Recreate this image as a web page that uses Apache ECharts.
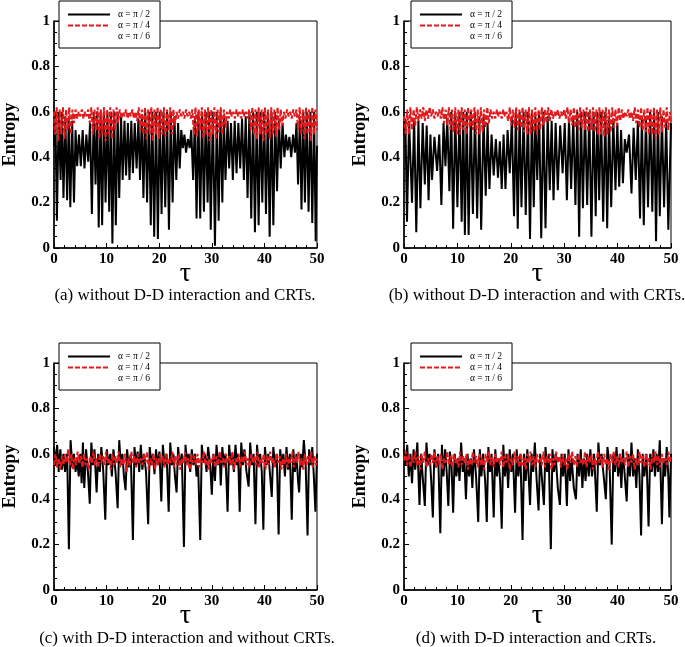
<!DOCTYPE html>
<html><head><meta charset="utf-8">
<script src="https://cdn.jsdelivr.net/npm/echarts@6/dist/echarts.min.js"></script>
<style>html,body{margin:0;padding:0;background:#fff}#c{width:685px;height:647px}</style>
</head><body><div id="c"></div>
<script>
const legendNames = ['α = π / 2', 'α = π / 4', 'α = π / 6'];
const captions = [
  '(a) without D-D interaction and CRTs.',
  '(b) without D-D interaction and with CRTs.',
  '(c) with D-D interaction and without CRTs.',
  '(d) with D-D interaction and CRTs.'
];
const xName = 'τ';
const yName = 'Entropy';

const aBlack = [[0,0.45],[0.25,0.6],[0.55,0.12],[0.9,0.6],[1.25,0.3],[1.5,0.6],[1.8,0.22],[2.15,0.58],[2.5,0.21],[2.8,0.57],[3.1,0.18],[3.45,0.56],[3.8,0.2],[4.1,0.52],[4.4,0.36],[4.75,0.5],[5.1,0.36],[5.45,0.52],[5.8,0.35],[6.15,0.5],[6.5,0.38],[6.85,0.55],[7.2,0.15],[7.55,0.6],[7.9,0.28],[8.2,0.6],[8.5,0.09],[8.85,0.6],[9.15,0.1],[9.5,0.6],[9.8,0.2],[10.15,0.6],[10.5,0.16],[10.8,0.6],[11.1,0.02],[11.45,0.6],[11.75,0.1],[12.1,0.6],[12.4,0.22],[12.75,0.58],[13.05,0.3],[13.4,0.56],[13.7,0.32],[14.05,0.55],[14.35,0.3],[14.7,0.56],[15.0,0.33],[15.35,0.55],[15.7,0.35],[16.05,0.57],[16.35,0.3],[16.7,0.58],[17.0,0.22],[17.35,0.6],[17.7,0.2],[18.05,0.6],[18.4,0.1],[18.7,0.6],[19.05,0.05],[19.4,0.6],[19.75,0.04],[20.1,0.6],[20.45,0.15],[20.8,0.6],[21.15,0.18],[21.5,0.6],[21.85,0.08],[22.2,0.6],[22.55,0.2],[22.9,0.58],[23.25,0.3],[23.6,0.55],[23.9,0.35],[24.2,0.52],[24.5,0.44],[24.8,0.5],[25.1,0.42],[25.45,0.48],[25.8,0.44],[26.1,0.52],[26.45,0.3],[26.8,0.58],[27.1,0.13],[27.45,0.6],[27.8,0.13],[28.15,0.6],[28.5,0.16],[28.85,0.6],[29.2,0.2],[29.5,0.6],[29.8,0.08],[30.2,0.6],[30.6,0.01],[30.95,0.6],[31.3,0.12],[31.65,0.6],[32.0,0.2],[32.3,0.58],[32.6,0.3],[33.0,0.56],[33.3,0.35],[33.65,0.55],[34.0,0.3],[34.35,0.56],[34.7,0.33],[35.05,0.55],[35.4,0.35],[35.75,0.57],[36.1,0.3],[36.45,0.58],[36.8,0.22],[37.15,0.6],[37.5,0.13],[37.85,0.6],[38.2,0.07],[38.55,0.6],[38.9,0.1],[39.25,0.6],[39.6,0.2],[39.95,0.6],[40.3,0.15],[40.65,0.6],[41.0,0.05],[41.35,0.6],[41.7,0.1],[42.05,0.6],[42.4,0.25],[42.75,0.57],[43.1,0.35],[43.45,0.55],[43.8,0.4],[44.1,0.5],[44.4,0.43],[44.75,0.49],[45.1,0.4],[45.45,0.5],[45.8,0.42],[46.1,0.55],[46.4,0.28],[46.75,0.58],[47.05,0.17],[47.4,0.6],[47.7,0.2],[48.05,0.6],[48.4,0.16],[48.75,0.6],[49.1,0.11],[49.45,0.6],[49.75,0.03],[50,0.45]];

const aRed = [[0,0.6],[0.2,0.5],[0.5,0.62],[0.8,0.47],[1.1,0.61],[1.4,0.5],[1.7,0.62],[2.0,0.48],[2.3,0.61],[2.6,0.52],[2.9,0.62],[3.2,0.5],[3.5,0.61],[3.8,0.55],[4.1,0.61],[4.4,0.57],[4.7,0.6],[5.0,0.58],[5.3,0.61],[5.6,0.57],[5.9,0.6],[6.2,0.58],[6.5,0.61],[6.8,0.55],[7.1,0.62],[7.4,0.5],[7.7,0.61],[8.0,0.52],[8.3,0.62],[8.6,0.48],[8.9,0.61],[9.2,0.5],[9.5,0.62],[9.8,0.47],[10.1,0.61],[10.4,0.5],[10.7,0.62],[11.0,0.48],[11.3,0.61],[11.6,0.52],[11.9,0.62],[12.2,0.55],[12.5,0.61],[12.8,0.57],[13.1,0.6],[13.4,0.58],[13.7,0.61],[14.0,0.57],[14.3,0.6],[14.6,0.58],[14.9,0.61],[15.2,0.57],[15.5,0.6],[15.8,0.56],[16.1,0.62],[16.4,0.52],[16.7,0.61],[17.0,0.5],[17.3,0.62],[17.6,0.48],[17.9,0.61],[18.2,0.5],[18.5,0.62],[18.8,0.47],[19.1,0.61],[19.4,0.5],[19.7,0.62],[20.0,0.48],[20.3,0.61],[20.6,0.5],[20.9,0.62],[21.2,0.49],[21.5,0.61],[21.8,0.52],[22.1,0.62],[22.4,0.5],[22.7,0.61],[23.0,0.54],[23.3,0.6],[23.6,0.57],[23.9,0.61],[24.2,0.58],[24.5,0.6],[24.8,0.57],[25.1,0.61],[25.4,0.58],[25.7,0.6],[26.0,0.57],[26.3,0.61],[26.6,0.5],[26.9,0.62],[27.2,0.49],[27.5,0.61],[27.8,0.52],[28.1,0.62],[28.4,0.48],[28.7,0.61],[29.0,0.5],[29.3,0.62],[29.6,0.47],[29.9,0.61],[30.2,0.5],[30.5,0.62],[30.8,0.48],[31.1,0.61],[31.4,0.51],[31.7,0.62],[32.0,0.5],[32.3,0.61],[32.6,0.53],[32.9,0.6],[33.2,0.57],[33.5,0.61],[33.8,0.58],[34.1,0.6],[34.4,0.57],[34.7,0.61],[35.0,0.58],[35.3,0.6],[35.6,0.57],[35.9,0.61],[36.2,0.58],[36.5,0.6],[36.8,0.57],[37.1,0.61],[37.4,0.52],[37.7,0.62],[38.0,0.5],[38.3,0.61],[38.6,0.48],[38.9,0.62],[39.2,0.5],[39.5,0.61],[39.8,0.47],[40.1,0.62],[40.4,0.5],[40.7,0.61],[41.0,0.48],[41.3,0.62],[41.6,0.5],[41.9,0.61],[42.2,0.49],[42.5,0.62],[42.8,0.52],[43.1,0.61],[43.4,0.54],[43.7,0.6],[44.0,0.57],[44.3,0.61],[44.6,0.58],[44.9,0.6],[45.2,0.57],[45.5,0.61],[45.8,0.58],[46.1,0.61],[46.4,0.52],[46.7,0.62],[47.0,0.5],[47.3,0.61],[47.6,0.48],[47.9,0.62],[48.2,0.5],[48.5,0.61],[48.8,0.47],[49.1,0.62],[49.4,0.5],[49.7,0.61],[50,0.52]];

const bBlack = [[0,0.5],[0.25,0.57],[0.56,0.116],[0.95,0.56],[1.5,0.2],[1.9,0.57],[2.3,0.07],[2.7,0.56],[3.07,0.175],[3.5,0.55],[3.9,0.28],[4.25,0.54],[4.6,0.21],[4.95,0.5],[5.25,0.3],[5.7,0.49],[6.2,0.34],[6.6,0.5],[7.0,0.19],[7.4,0.55],[7.76,0.36],[8.1,0.57],[8.5,0.25],[8.85,0.6],[9.2,0.085],[9.6,0.6],[10.0,0.18],[10.4,0.6],[10.8,0.116],[11.1,0.6],[11.4,0.057],[11.75,0.6],[12.1,0.057],[12.5,0.6],[12.9,0.15],[13.3,0.6],[13.7,0.13],[14.1,0.58],[14.45,0.08],[14.9,0.58],[15.3,0.23],[15.65,0.55],[16.0,0.26],[16.4,0.5],[16.8,0.32],[17.2,0.48],[17.6,0.31],[17.95,0.47],[18.3,0.26],[18.65,0.5],[19.0,0.26],[19.4,0.52],[19.8,0.33],[20.2,0.57],[20.6,0.14],[20.95,0.6],[21.3,0.085],[21.65,0.6],[22.0,0.18],[22.4,0.6],[22.8,0.145],[23.2,0.6],[23.6,0.04],[23.95,0.6],[24.3,0.18],[24.6,0.58],[24.95,0.3],[25.3,0.6],[25.7,0.043],[26.1,0.6],[26.5,0.087],[26.9,0.58],[27.3,0.255],[27.65,0.56],[28.0,0.21],[28.4,0.55],[28.8,0.255],[29.25,0.54],[29.7,0.33],[30.1,0.55],[30.5,0.21],[30.9,0.57],[31.3,0.26],[31.7,0.58],[32.1,0.19],[32.45,0.6],[32.8,0.05],[33.15,0.6],[33.5,0.175],[33.9,0.6],[34.3,0.19],[34.7,0.6],[35.1,0.05],[35.5,0.6],[35.9,0.14],[36.2,0.6],[36.55,0.21],[36.9,0.6],[37.3,0.116],[37.7,0.6],[38.05,0.087],[38.4,0.58],[38.8,0.18],[39.2,0.57],[39.6,0.255],[39.95,0.55],[40.3,0.27],[40.65,0.52],[41.0,0.285],[41.35,0.48],[41.7,0.42],[42.15,0.5],[42.6,0.24],[43.0,0.53],[43.4,0.3],[43.8,0.56],[44.2,0.13],[44.55,0.58],[44.9,0.1],[45.3,0.58],[45.7,0.18],[46.1,0.6],[46.5,0.16],[46.85,0.6],[47.2,0.03],[47.55,0.6],[47.9,0.14],[48.3,0.58],[48.7,0.18],[49.1,0.56],[49.5,0.08],[50,0.55]];

const bRed = [[0,0.58],[0.3,0.5],[0.6,0.61],[0.9,0.5],[1.2,0.62],[1.5,0.52],[1.8,0.61],[2.1,0.54],[2.4,0.62],[2.7,0.56],[3.0,0.61],[3.3,0.57],[3.6,0.62],[3.9,0.56],[4.2,0.61],[4.5,0.57],[4.8,0.62],[5.1,0.58],[5.4,0.61],[5.7,0.57],[6.0,0.6],[6.3,0.58],[6.6,0.61],[6.9,0.57],[7.2,0.62],[7.5,0.55],[7.8,0.61],[8.1,0.54],[8.4,0.62],[8.7,0.52],[9.0,0.61],[9.3,0.51],[9.6,0.62],[9.9,0.5],[10.2,0.61],[10.5,0.5],[10.8,0.62],[11.1,0.52],[11.4,0.61],[11.7,0.5],[12.0,0.62],[12.3,0.53],[12.6,0.61],[12.9,0.52],[13.2,0.62],[13.5,0.5],[13.8,0.61],[14.1,0.5],[14.4,0.62],[14.7,0.51],[15.0,0.61],[15.3,0.53],[15.6,0.62],[15.9,0.55],[16.2,0.61],[16.5,0.57],[16.8,0.6],[17.1,0.57],[17.4,0.61],[17.7,0.58],[18.0,0.6],[18.3,0.57],[18.6,0.61],[18.9,0.58],[19.2,0.6],[19.5,0.56],[19.8,0.62],[20.1,0.54],[20.4,0.61],[20.7,0.53],[21.0,0.62],[21.3,0.52],[21.6,0.61],[21.9,0.53],[22.2,0.62],[22.5,0.51],[22.8,0.61],[23.1,0.5],[23.4,0.62],[23.7,0.5],[24.0,0.61],[24.3,0.51],[24.6,0.62],[24.9,0.5],[25.2,0.61],[25.5,0.52],[25.8,0.62],[26.1,0.54],[26.4,0.61],[26.7,0.55],[27.0,0.62],[27.3,0.56],[27.6,0.61],[27.9,0.57],[28.2,0.6],[28.5,0.58],[28.8,0.61],[29.1,0.57],[29.4,0.6],[29.7,0.58],[30.0,0.61],[30.3,0.57],[30.6,0.62],[30.9,0.55],[31.2,0.61],[31.5,0.54],[31.8,0.62],[32.1,0.53],[32.4,0.61],[32.7,0.52],[33.0,0.62],[33.3,0.53],[33.6,0.61],[33.9,0.52],[34.2,0.62],[34.5,0.51],[34.8,0.61],[35.1,0.52],[35.4,0.62],[35.7,0.51],[36.0,0.61],[36.3,0.5],[36.6,0.62],[36.9,0.5],[37.2,0.61],[37.5,0.49],[37.8,0.62],[38.1,0.5],[38.4,0.61],[38.7,0.51],[39.0,0.62],[39.3,0.53],[39.6,0.61],[39.9,0.54],[40.2,0.62],[40.5,0.56],[40.8,0.61],[41.1,0.57],[41.4,0.6],[41.7,0.58],[42.0,0.61],[42.3,0.57],[42.6,0.6],[42.9,0.56],[43.2,0.62],[43.5,0.55],[43.8,0.61],[44.1,0.53],[44.4,0.62],[44.7,0.52],[45.0,0.61],[45.3,0.51],[45.6,0.62],[45.9,0.5],[46.2,0.61],[46.5,0.5],[46.8,0.62],[47.1,0.48],[47.4,0.61],[47.7,0.5],[48.0,0.62],[48.3,0.51],[48.6,0.61],[48.9,0.53],[49.2,0.62],[49.5,0.52],[49.8,0.6],[50,0.55]];

const cBlack = [[0,0.63],[0.3,0.55],[0.6,0.64],[0.9,0.52],[1.2,0.62],[1.5,0.53],[1.8,0.6],[2.1,0.52],[2.5,0.6],[2.83,0.18],[3.15,0.66],[3.5,0.54],[3.8,0.6],[4.1,0.52],[4.4,0.58],[4.7,0.5],[5.0,0.6],[5.25,0.47],[5.5,0.65],[5.75,0.45],[6.1,0.62],[6.45,0.52],[6.8,0.38],[7.1,0.65],[7.4,0.55],[7.7,0.62],[8.1,0.43],[8.4,0.6],[8.7,0.52],[9.0,0.63],[9.35,0.53],[9.75,0.31],[10.05,0.62],[10.35,0.55],[10.7,0.6],[11.0,0.5],[11.3,0.62],[11.7,0.52],[12.1,0.36],[12.4,0.66],[12.7,0.55],[13.0,0.6],[13.3,0.5],[13.6,0.44],[13.9,0.62],[14.2,0.54],[14.6,0.6],[15.0,0.22],[15.3,0.63],[15.6,0.55],[15.9,0.61],[16.2,0.52],[16.5,0.64],[16.8,0.53],[17.1,0.6],[17.5,0.52],[17.9,0.29],[18.2,0.63],[18.5,0.55],[18.8,0.6],[19.1,0.51],[19.4,0.62],[19.7,0.55],[20.05,0.61],[20.4,0.39],[20.7,0.64],[21.0,0.55],[21.4,0.6],[21.8,0.345],[22.1,0.65],[22.4,0.55],[22.7,0.6],[23.0,0.5],[23.3,0.43],[23.6,0.63],[23.9,0.55],[24.3,0.6],[24.7,0.19],[25.0,0.64],[25.3,0.56],[25.6,0.6],[25.9,0.52],[26.2,0.62],[26.5,0.55],[26.8,0.6],[27.1,0.5],[27.4,0.55],[27.8,0.22],[28.1,0.64],[28.4,0.56],[28.7,0.6],[29.0,0.52],[29.3,0.63],[29.7,0.55],[30.0,0.42],[30.3,0.6],[30.6,0.48],[30.9,0.64],[31.2,0.55],[31.5,0.6],[31.7,0.46],[32.0,0.63],[32.3,0.55],[32.6,0.6],[33.0,0.345],[33.3,0.64],[33.6,0.55],[33.9,0.6],[34.2,0.52],[34.5,0.64],[34.8,0.55],[35.0,0.6],[35.3,0.345],[35.6,0.65],[35.9,0.55],[36.2,0.62],[36.6,0.52],[37.0,0.455],[37.3,0.65],[37.6,0.55],[37.95,0.6],[38.3,0.29],[38.6,0.64],[38.9,0.55],[39.2,0.6],[39.5,0.52],[39.8,0.265],[40.1,0.63],[40.4,0.55],[40.75,0.6],[41.1,0.5],[41.4,0.41],[41.7,0.63],[42.0,0.55],[42.35,0.6],[42.7,0.245],[43.0,0.62],[43.3,0.55],[43.6,0.6],[43.9,0.5],[44.2,0.63],[44.5,0.53],[44.85,0.6],[45.2,0.31],[45.5,0.62],[45.8,0.52],[46.1,0.6],[46.4,0.48],[46.6,0.43],[46.9,0.6],[47.2,0.54],[47.5,0.66],[47.85,0.55],[48.2,0.24],[48.5,0.62],[48.8,0.55],[49.1,0.63],[49.4,0.5],[49.7,0.345],[50,0.6]];

const cRed = [[0,0.55],[0.3,0.6],[0.6,0.54],[0.9,0.58],[1.2,0.53],[1.5,0.59],[1.8,0.55],[2.1,0.6],[2.4,0.56],[2.7,0.62],[3.0,0.55],[3.3,0.6],[3.6,0.53],[3.9,0.58],[4.2,0.55],[4.5,0.61],[4.8,0.56],[5.1,0.59],[5.4,0.54],[5.7,0.6],[6.0,0.55],[6.3,0.58],[6.6,0.53],[6.9,0.59],[7.2,0.56],[7.5,0.61],[7.8,0.55],[8.1,0.58],[8.4,0.54],[8.7,0.6],[9.0,0.56],[9.3,0.59],[9.6,0.55],[9.9,0.61],[10.2,0.56],[10.5,0.58],[10.8,0.53],[11.1,0.6],[11.4,0.55],[11.7,0.59],[12.0,0.56],[12.3,0.61],[12.6,0.54],[12.9,0.58],[13.2,0.55],[13.5,0.6],[13.8,0.52],[14.1,0.58],[14.4,0.55],[14.7,0.61],[15.0,0.56],[15.3,0.59],[15.6,0.54],[15.9,0.6],[16.2,0.56],[16.5,0.58],[16.8,0.55],[17.1,0.6],[17.4,0.56],[17.7,0.61],[18.0,0.53],[18.3,0.58],[18.6,0.55],[18.9,0.6],[19.2,0.53],[19.5,0.58],[19.8,0.55],[20.1,0.6],[20.4,0.56],[20.7,0.59],[21.0,0.54],[21.3,0.6],[21.6,0.55],[21.9,0.58],[22.2,0.56],[22.5,0.61],[22.8,0.54],[23.1,0.59],[23.4,0.55],[23.7,0.6],[24.0,0.53],[24.3,0.58],[24.6,0.56],[24.9,0.61],[25.2,0.55],[25.5,0.58],[25.8,0.53],[26.1,0.6],[26.4,0.56],[26.7,0.59],[27.0,0.55],[27.3,0.6],[27.6,0.54],[27.9,0.58],[28.2,0.56],[28.5,0.61],[28.8,0.55],[29.1,0.59],[29.4,0.53],[29.7,0.58],[30.0,0.56],[30.3,0.6],[30.6,0.54],[30.9,0.59],[31.2,0.55],[31.5,0.61],[31.8,0.56],[32.1,0.58],[32.4,0.54],[32.7,0.6],[33.0,0.56],[33.3,0.59],[33.6,0.55],[33.9,0.61],[34.2,0.53],[34.5,0.58],[34.8,0.56],[35.1,0.6],[35.4,0.54],[35.7,0.59],[36.0,0.56],[36.3,0.61],[36.6,0.55],[36.9,0.58],[37.2,0.54],[37.5,0.6],[37.8,0.56],[38.1,0.59],[38.4,0.55],[38.7,0.61],[39.0,0.54],[39.3,0.58],[39.6,0.56],[39.9,0.6],[40.2,0.53],[40.5,0.59],[40.8,0.55],[41.1,0.61],[41.4,0.56],[41.7,0.58],[42.0,0.54],[42.3,0.6],[42.6,0.56],[42.9,0.59],[43.2,0.53],[43.5,0.58],[43.8,0.55],[44.1,0.6],[44.4,0.54],[44.7,0.58],[45.0,0.56],[45.3,0.61],[45.6,0.54],[45.9,0.59],[46.2,0.56],[46.5,0.61],[46.8,0.55],[47.1,0.58],[47.4,0.53],[47.7,0.6],[48.0,0.55],[48.3,0.59],[48.6,0.56],[48.9,0.61],[49.2,0.54],[49.5,0.59],[49.8,0.55],[50,0.58]];

const dBlack = [[0,0.62],[0.3,0.55],[0.6,0.64],[0.9,0.5],[1.2,0.6],[1.5,0.47],[1.8,0.62],[2.1,0.53],[2.5,0.65],[2.9,0.375],[3.2,0.6],[3.5,0.5],[3.9,0.37],[4.2,0.65],[4.5,0.55],[4.8,0.6],[5.1,0.48],[5.4,0.32],[5.7,0.62],[6.0,0.54],[6.4,0.6],[6.8,0.25],[7.1,0.64],[7.4,0.5],[7.7,0.62],[8.0,0.52],[8.3,0.37],[8.6,0.61],[8.9,0.55],[9.2,0.34],[9.5,0.6],[9.8,0.5],[10.1,0.58],[10.4,0.48],[10.7,0.65],[11.0,0.52],[11.3,0.58],[11.6,0.4],[11.9,0.6],[12.2,0.5],[12.5,0.58],[12.8,0.45],[13.1,0.62],[13.5,0.5],[13.9,0.3],[14.2,0.62],[14.5,0.5],[14.8,0.6],[15.2,0.48],[15.5,0.3],[15.8,0.63],[16.1,0.52],[16.4,0.6],[16.8,0.32],[17.1,0.62],[17.4,0.5],[17.7,0.58],[18.0,0.48],[18.3,0.27],[18.6,0.64],[18.9,0.5],[19.2,0.6],[19.5,0.45],[19.8,0.62],[20.1,0.52],[20.4,0.6],[20.8,0.34],[21.1,0.62],[21.4,0.5],[21.8,0.6],[22.2,0.22],[22.5,0.6],[22.8,0.48],[23.1,0.62],[23.35,0.5],[23.6,0.375],[23.9,0.6],[24.2,0.52],[24.5,0.65],[24.85,0.48],[25.2,0.35],[25.5,0.6],[25.8,0.5],[26.2,0.375],[26.5,0.63],[26.8,0.52],[27.1,0.6],[27.5,0.18],[27.8,0.62],[28.1,0.52],[28.4,0.6],[28.8,0.45],[29.2,0.375],[29.5,0.6],[29.8,0.5],[30.1,0.6],[30.5,0.37],[30.8,0.62],[31.1,0.48],[31.4,0.58],[31.8,0.45],[32.2,0.4],[32.5,0.6],[32.8,0.5],[33.1,0.62],[33.4,0.45],[33.7,0.58],[34.0,0.48],[34.3,0.6],[34.6,0.5],[34.9,0.62],[35.2,0.5],[35.6,0.6],[36.1,0.345],[36.4,0.65],[36.7,0.55],[37.0,0.6],[37.4,0.5],[37.8,0.4],[38.1,0.63],[38.5,0.55],[38.9,0.2],[39.2,0.6],[39.5,0.52],[39.8,0.63],[40.1,0.5],[40.4,0.6],[40.7,0.45],[41.0,0.62],[41.35,0.5],[41.7,0.39],[42.0,0.6],[42.3,0.5],[42.6,0.65],[42.9,0.5],[43.2,0.58],[43.5,0.45],[43.8,0.62],[44.1,0.5],[44.4,0.24],[44.7,0.6],[45.0,0.5],[45.4,0.6],[45.8,0.28],[46.1,0.6],[46.4,0.52],[46.7,0.62],[47.0,0.5],[47.3,0.6],[47.6,0.52],[47.9,0.66],[48.3,0.29],[48.6,0.58],[48.9,0.5],[49.2,0.63],[49.5,0.5],[49.7,0.32],[50,0.6]];

const dRed = [[0,0.57],[0.3,0.61],[0.6,0.55],[0.9,0.6],[1.2,0.54],[1.5,0.59],[1.8,0.56],[2.1,0.61],[2.4,0.55],[2.7,0.59],[3.0,0.53],[3.3,0.6],[3.6,0.56],[3.9,0.61],[4.2,0.54],[4.5,0.58],[4.8,0.55],[5.1,0.6],[5.4,0.56],[5.7,0.61],[6.0,0.54],[6.3,0.59],[6.6,0.55],[6.9,0.6],[7.2,0.53],[7.5,0.58],[7.8,0.56],[8.1,0.61],[8.4,0.55],[8.7,0.59],[9.0,0.54],[9.3,0.6],[9.6,0.56],[9.9,0.58],[10.2,0.54],[10.5,0.61],[10.8,0.55],[11.1,0.59],[11.4,0.56],[11.7,0.6],[12.0,0.53],[12.3,0.58],[12.6,0.55],[12.9,0.61],[13.2,0.56],[13.5,0.59],[13.8,0.54],[14.1,0.6],[14.4,0.55],[14.7,0.58],[15.0,0.53],[15.3,0.6],[15.6,0.56],[15.9,0.61],[16.2,0.55],[16.5,0.59],[16.8,0.54],[17.1,0.6],[17.4,0.56],[17.7,0.58],[18.0,0.55],[18.3,0.61],[18.6,0.54],[18.9,0.59],[19.2,0.56],[19.5,0.6],[19.8,0.53],[20.1,0.58],[20.4,0.55],[20.7,0.61],[21.0,0.56],[21.3,0.59],[21.6,0.54],[21.9,0.6],[22.2,0.55],[22.5,0.58],[22.8,0.53],[23.1,0.6],[23.4,0.56],[23.7,0.61],[24.0,0.55],[24.3,0.59],[24.6,0.54],[24.9,0.6],[25.2,0.56],[25.5,0.58],[25.8,0.55],[26.1,0.61],[26.4,0.54],[26.7,0.59],[27.0,0.56],[27.3,0.6],[27.6,0.53],[27.9,0.58],[28.2,0.55],[28.5,0.61],[28.8,0.56],[29.1,0.59],[29.4,0.54],[29.7,0.6],[30.0,0.55],[30.3,0.58],[30.6,0.53],[30.9,0.6],[31.2,0.56],[31.5,0.61],[31.8,0.55],[32.1,0.59],[32.4,0.54],[32.7,0.6],[33.0,0.56],[33.3,0.58],[33.6,0.55],[33.9,0.61],[34.2,0.54],[34.5,0.59],[34.8,0.56],[35.1,0.6],[35.4,0.53],[35.7,0.58],[36.0,0.55],[36.3,0.61],[36.6,0.56],[36.9,0.59],[37.2,0.54],[37.5,0.6],[37.8,0.55],[38.1,0.58],[38.4,0.53],[38.7,0.6],[39.0,0.56],[39.3,0.61],[39.6,0.55],[39.9,0.59],[40.2,0.54],[40.5,0.6],[40.8,0.56],[41.1,0.58],[41.4,0.55],[41.7,0.61],[42.0,0.54],[42.3,0.59],[42.6,0.56],[42.9,0.6],[43.2,0.53],[43.5,0.58],[43.8,0.55],[44.1,0.61],[44.4,0.56],[44.7,0.59],[45.0,0.54],[45.3,0.6],[45.6,0.55],[45.9,0.58],[46.2,0.53],[46.5,0.6],[46.8,0.56],[47.1,0.61],[47.4,0.55],[47.7,0.59],[48.0,0.54],[48.3,0.6],[48.6,0.56],[48.9,0.58],[49.2,0.55],[49.5,0.61],[49.8,0.56],[50,0.59]];

const piSixth = [];

const panels = [
  {grid:{left:52, top:21, width:265, height:227}, cap:[185, 296], black:aBlack, red:aRed},
  {grid:{left:404, top:21, width:267, height:227}, cap:[537, 296], black:bBlack, red:bRed},
  {grid:{left:52, top:363, width:265, height:227}, cap:[187, 639], black:cBlack, red:cRed},
  {grid:{left:404, top:363, width:267, height:227}, cap:[536, 639], black:dBlack, red:dRed}
];

const SERIF = '"Liberation Serif", "Times New Roman", serif';
const RED = '#e3191c';

const option = {
  animation: false,
  backgroundColor: '#fff',
  grid: [], xAxis: [], yAxis: [], series: [], legend: [], graphic: []
};

panels.forEach((p, i) => {
  option.grid.push(Object.assign({show:true, borderColor:'#000', borderWidth:1, backgroundColor:'transparent'}, p.grid));
  option.xAxis.push({
    type:'value', gridIndex:i, min:0, max:50, interval:10,
    name:xName, nameLocation:'middle', nameGap:12, nameMoveOverlap:false,
    nameTextStyle:{fontFamily:SERIF, fontSize:28, color:'#000'},
    axisLine:{show:true, onZero:false, lineStyle:{color:'#000', width:1.5}},
    axisTick:{show:true, inside:true, length:5, lineStyle:{color:'#000', width:1}},
    minorTick:{show:true, splitNumber:5, length:3, lineStyle:{color:'#000', width:1}},
    splitLine:{show:false},
    axisLabel:{fontFamily:SERIF, fontWeight:'bold', fontSize:15, color:'#000', margin:4}
  });
  option.yAxis.push({
    type:'value', gridIndex:i, min:0, max:1, interval:0.2,
    name:yName, nameLocation:'middle', nameGap:35, nameRotate:90, nameMoveOverlap:false,
    nameTextStyle:{fontFamily:SERIF, fontWeight:'bold', fontSize:18, color:'#000'},
    axisLine:{show:true, onZero:false, lineStyle:{color:'#000', width:1.5}},
    axisTick:{show:true, inside:true, length:5, lineStyle:{color:'#000', width:1}},
    minorTick:{show:true, splitNumber:4, length:3, lineStyle:{color:'#000', width:1}},
    splitLine:{show:false},
    axisLabel:{fontFamily:SERIF, fontWeight:'bold', fontSize:15, color:'#000', margin:4}
  });
  option.series.push({
    type:'line', name:legendNames[0], xAxisIndex:i, yAxisIndex:i, data:p.black,
    symbol:'none', showSymbol:false, lineStyle:{color:'#000', width:2}, itemStyle:{color:'#000'}, z:2
  });
  option.series.push({
    type:'line', name:legendNames[1], xAxisIndex:i, yAxisIndex:i, data:p.red,
    symbol:'none', showSymbol:false, lineStyle:{color:RED, width:2, type:[5,2]}, itemStyle:{color:RED}, z:3
  });
  option.series.push({
    type:'line', name:legendNames[2], xAxisIndex:i, yAxisIndex:i, data:piSixth,
    symbol:'none', showSymbol:false, lineStyle:{color:'#fff', width:0, opacity:0}, itemStyle:{color:'#fff', opacity:0}
  });
  option.legend.push({
    orient:'vertical', left:p.grid.left + 7, top:p.grid.top - 20,
    data:legendNames, selectedMode:false,
    itemWidth:42, itemHeight:9, itemGap:0,
    itemStyle:{opacity:0},
    padding:[8,10,6,8], backgroundColor:'#fff', borderColor:'#000', borderWidth:1,
    textStyle:{fontFamily:SERIF, fontSize:9.5, lineHeight:11, color:'#000', padding:[0,0,0,3]},
    z:10
  });
  option.graphic.push({
    type:'text', x:p.cap[0], y:p.cap[1], z:10,
    style:{text:captions[i], font:'17px ' + SERIF, fill:'#000', textAlign:'center', textVerticalAlign:'middle', align:'center', verticalAlign:'middle'}
  });
});

const chart = echarts.init(document.getElementById('c'), null, {renderer:'canvas'});
chart.setOption(option);
</script>
</body></html>
